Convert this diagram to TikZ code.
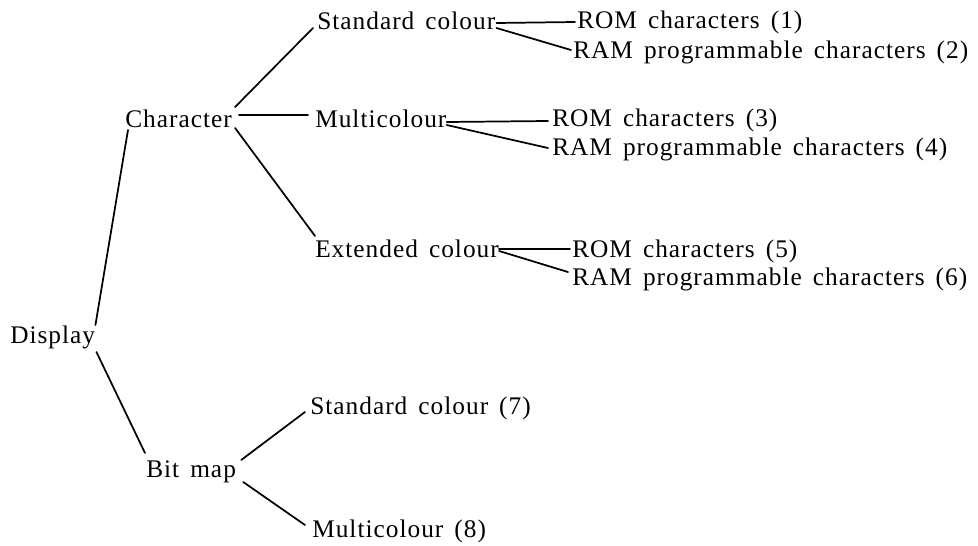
\documentclass[tikz,border=0pt]{standalone}
\usepackage{fontspec}
\setmainfont{Liberation Serif}[LetterSpace=4,WordSpace=1.5]
\begin{document}
\begin{tikzpicture}[x=0.75pt,y=-0.75pt,
  lbl/.style={anchor=base west,inner sep=0pt,font=\fontsize{19}{21}\selectfont},
  conn/.style={line width=1.3pt,line cap=round}]
\useasboundingbox (0,0) rectangle (978,546);
% nodes
\node[lbl] (disp) at (10,343) {Display};
\node[lbl] (char) at (125,127) {Character};
\node[lbl] (bmap) at (146,477) {Bit map};
\node[lbl] (std)  at (317,29) {Standard colour};
\node[lbl] (mul)  at (315,127) {Multicolour};
\node[lbl] (ext)  at (315,257) {Extended colour};
\node[lbl] (rom1) at (577,28) {ROM characters (1)};
\node[lbl] (ram2) at (573,58) {RAM programmable characters (2)};
\node[lbl] (rom3) at (552,126) {ROM characters (3)};
\node[lbl] (ram4) at (552,155) {RAM programmable characters (4)};
\node[lbl] (rom5) at (572,257) {ROM characters (5)};
\node[lbl] (ram6) at (572,285) {RAM programmable characters (6)};
\node[lbl] (sc7)  at (310,414) {Standard colour (7)};
\node[lbl] (mc8)  at (312,537) {Multicolour (8)};
% connectors
\draw[conn] ([shift={(0,-18)}]disp.base east) -- ([shift={(3,3)}]char.base west);
\draw[conn] ([shift={(1,9)}]disp.base east) -- ([shift={(-1,-24)}]bmap.base west);
\draw[conn] ([shift={(3,-20)}]char.base east) -- ([shift={(-4,-1)}]std.base west);
\draw[conn] ([shift={(7,-12)}]char.base east) -- ([shift={(-7,-12)}]mul.base west);
\draw[conn] ([shift={(3,1)}]char.base east) -- ([shift={(0,-21)}]ext.base west);
\draw[conn] ([shift={(1,-6)}]std.base east) -- ([shift={(-2,-6)}]rom1.base west);
\draw[conn] ([shift={(1,-1)}]std.base east) -- ([shift={(-2,-8)}]ram2.base west);
\draw[conn] ([shift={(0,-5)}]mul.base east) -- ([shift={(-4,-5)}]rom3.base west);
\draw[conn] ([shift={(0,-2)}]mul.base east) -- ([shift={(-4,-7)}]ram4.base west);
\draw[conn] ([shift={(0,-8)}]ext.base east) -- ([shift={(-2,-8)}]rom5.base west);
\draw[conn] ([shift={(0,-6)}]ext.base east) -- ([shift={(-4,-13)}]ram6.base west);
\draw[conn] ([shift={(5,-17)}]bmap.base east) -- ([shift={(-5,-2)}]sc7.base west);
\draw[conn] ([shift={(7,5)}]bmap.base east) -- ([shift={(-7,-12)}]mc8.base west);
\end{tikzpicture}
\end{document}
